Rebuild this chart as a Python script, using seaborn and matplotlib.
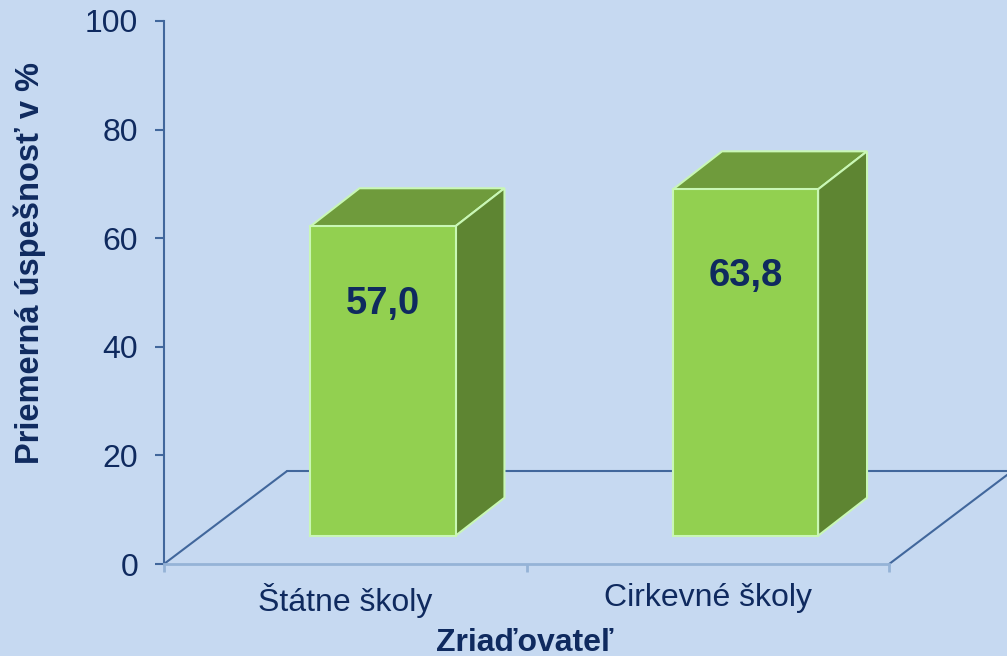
import matplotlib
matplotlib.use("Agg")
import matplotlib.pyplot as plt
from matplotlib.patches import Polygon
import pandas as pd
import seaborn as sns

# data
categories = ["Štátne školy", "Cirkevné školy"]
values = [57.0, 63.8]
value_labels = ["57,0", "63,8"]
y_ticks = [0, 20, 40, 60, 80, 100]
x_title = "Zriaďovateľ"
y_title = "Priemerná úspešnosť v %"

# colours
BG = "#C6D9F1"
NAVY = "#0F2A5F"
FRONT = "#92D050"
TOP = "#6F9B3C"
SIDE = "#5E8532"
EDGE = "#C9F7B5"
AXIS = "#41679C"
AXIS_LIGHT = "#95B3D7"

# fake 3D geometry (data units)
shift_x = 0.104
floor_y = 5.2
depth_dx = 0.135
depth_dy = 7.0
floor_dx = 0.339
floor_dy = 17.1

sns.set_theme(style="white")
plt.rcParams['font.family'] = ['Liberation Sans', 'DejaVu Sans']

fig = plt.figure(figsize=(10.07, 6.56), dpi=100, facecolor=BG)
ax = fig.add_axes([164 / 1007, 92 / 656, 843 / 1007, 543 / 656])
ax.set_facecolor(BG)

df = pd.DataFrame({"cat": categories, "val": values})
sns.barplot(data=df, x="cat", y="val", width=0.4, color=FRONT, saturation=1,
            edgecolor=EDGE, linewidth=1.5, ax=ax, zorder=4)

for p, lab in zip(ax.patches, value_labels):
    p.set_x(p.get_x() + shift_x)
    p.set_y(floor_y)
    x0 = p.get_x()
    x1 = x0 + p.get_width()
    y0 = floor_y
    y1 = y0 + p.get_height()
    top = Polygon([(x0, y1), (x1, y1), (x1 + depth_dx, y1 + depth_dy), (x0 + depth_dx, y1 + depth_dy)],
                  closed=True, facecolor=TOP, edgecolor=EDGE, linewidth=1.5, zorder=3)
    side = Polygon([(x1, y0), (x1 + depth_dx, y0 + depth_dy), (x1 + depth_dx, y1 + depth_dy), (x1, y1)],
                   closed=True, facecolor=SIDE, edgecolor=EDGE, linewidth=1.5, zorder=3)
    ax.add_patch(top)
    ax.add_patch(side)
    ax.text((x0 + x1) / 2, y0 + 0.75 * p.get_height(), lab, ha="center", va="center",
            fontsize=27.5, fontweight="bold", color=NAVY, zorder=5)

# floor outline
ax.plot([-0.5, -0.5 + floor_dx], [0, floor_dy], color=AXIS, lw=1.5, zorder=1)
ax.plot([-0.5 + floor_dx, 1.5 + floor_dx], [floor_dy, floor_dy], color=AXIS, lw=1.5, zorder=1)
ax.plot([1.5, 1.5 + floor_dx], [0, floor_dy], color=AXIS, lw=1.5, zorder=1)

ax.set_xlim(-0.5, 1.825)
ax.set_ylim(0, 100)
ax.set_yticks(y_ticks)
ax.set_xticks([0, 1])
ax.set_xticklabels(categories)
ax.set_xticks([-0.5, 0.5, 1.5], minor=True)

for s in ["top", "right"]:
    ax.spines[s].set_visible(False)
ax.spines["left"].set_color(AXIS)
ax.spines["left"].set_linewidth(1.5)
ax.spines["left"].set_bounds(0, 100)
ax.spines["bottom"].set_color(AXIS_LIGHT)
ax.spines["bottom"].set_linewidth(2)
ax.spines["bottom"].set_bounds(-0.5, 1.5)

ax.tick_params(axis="y", direction="out", length=6.5, width=1.5, color=AXIS,
               labelsize=23, labelcolor=NAVY, pad=12, left=True)
ax.tick_params(axis="x", which="major", length=0, labelsize=23, labelcolor=NAVY, pad=14)
ax.tick_params(axis="x", which="minor", direction="out", length=6, width=2,
               color=AXIS_LIGHT, bottom=True)

ax.set_xlabel("")
ax.set_ylabel("")
fig.text(525 / 1007, 5 / 656, x_title, ha="center", va="baseline",
         fontsize=23, fontweight="bold", color=NAVY)
fig.text(30 / 1007, 1 - 263 / 656, y_title, ha="center", va="center", rotation=90,
         fontsize=23.5, fontweight="bold", color=NAVY)

fig.savefig("out.png", dpi=100, facecolor=BG)
